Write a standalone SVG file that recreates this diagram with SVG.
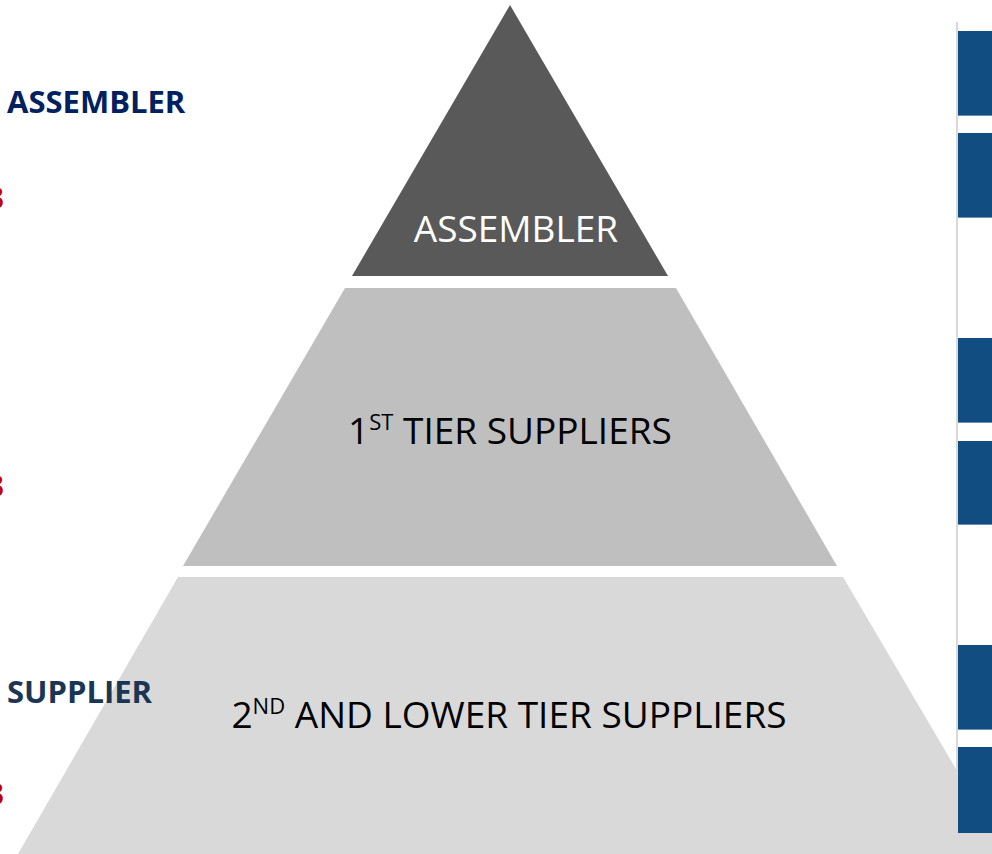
<svg xmlns="http://www.w3.org/2000/svg" width="992" height="854" viewBox="0 0 992 854">
<style>
.lbl{font-family:"Open Sans","Liberation Sans",sans-serif;font-size:37px;}
.side{font-family:"Open Sans","Liberation Sans",sans-serif;font-weight:bold;font-size:31px;}
.red{font-family:"Open Sans","Liberation Sans",sans-serif;font-weight:bold;font-size:31px;fill:#c00000;}
.blue{fill:#124d81;}
.blueedge{fill:#6d8fb3;}
</style>
<rect x="0" y="0" width="992" height="854" fill="#ffffff"/>
<g id="tier2">
<polygon points="178,577 843,577 1006,854 18,854" fill="#d9d9d9"/>
<text class="lbl" x="509" y="728" text-anchor="middle" fill="#000000">2<tspan font-size="22" dy="-14">ND</tspan><tspan dy="14"> AND LOWER TIER SUPPLIERS</tspan></text>
</g>
<g id="tier1">
<polygon points="345,288 676,288 837,566 183,566" fill="#bfbfbf"/>
<text class="lbl" x="510" y="444" text-anchor="middle" fill="#000000">1<tspan font-size="22" dy="-14">ST</tspan><tspan dy="14"> TIER SUPPLIERS</tspan></text>
</g>
<g id="assembler">
<polygon points="510,5 668,276 352,276" fill="#595959"/>
<text class="lbl" x="516" y="242" text-anchor="middle" fill="#ffffff">ASSEMBLER</text>
</g>
<g id="left-labels">
<text class="side" x="7" y="113" fill="#002060">ASSEMBLER</text>
<text class="side" x="7" y="703" fill="#1b3654">SUPPLIER</text>
<text class="red" x="4" y="209" text-anchor="end">3</text>
<text class="red" x="4" y="497" text-anchor="end">3</text>
<text class="red" x="4" y="805" text-anchor="end">3</text>
</g>
<g id="right-panel">
<rect x="956" y="22" width="2" height="832" fill="#d9d9d9"/>
<rect class="blue" x="958" y="31" width="34" height="85"/>
<rect class="blueedge" x="958" y="115" width="34" height="1"/>
<rect class="blue" x="958" y="133" width="34" height="85"/>
<rect class="blueedge" x="958" y="217" width="34" height="1"/>
<rect class="blue" x="958" y="338" width="34" height="85"/>
<rect class="blueedge" x="958" y="422" width="34" height="1"/>
<rect class="blue" x="958" y="441" width="34" height="84"/>
<rect class="blueedge" x="958" y="524" width="34" height="1"/>
<rect class="blue" x="958" y="645" width="34" height="85"/>
<rect class="blueedge" x="958" y="729" width="34" height="1"/>
<rect class="blue" x="958" y="747" width="34" height="86"/>
</g>
<g id="connectors"></g>
</svg>
